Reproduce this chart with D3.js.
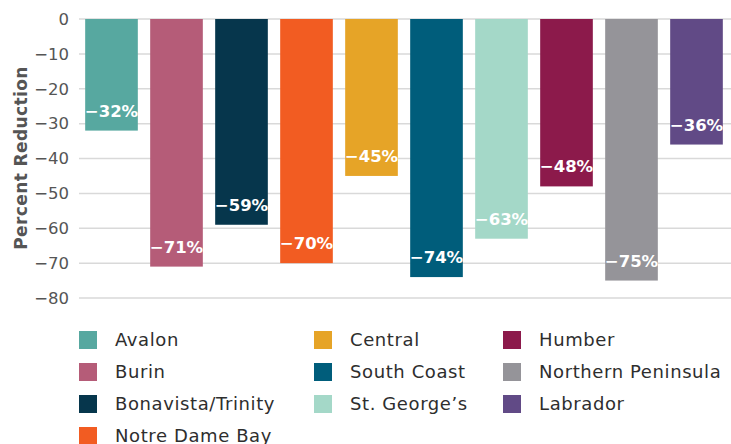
<!DOCTYPE html>
<html>
<head>
<meta charset="utf-8">
<script src="https://cdn.jsdelivr.net/npm/d3@7"></script>
<style>
  body { margin: 0; background: #fff; }
  svg { display: block; font-family: "DejaVu Sans", sans-serif; }
</style>
</head>
<body>
<svg id="chart" width="731" height="444"></svg>
<script>
// regions and their percent reduction
const regions = ["Avalon", "Burin", "Bonavista/Trinity", "Notre Dame Bay", "Central",
  "South Coast", "St. George\u2019s", "Humber", "Northern Peninsula", "Labrador"];
const reduction = [-32, -71, -59, -70, -45, -74, -63, -48, -75, -36];
const colors = ["#57a8a0", "#b55c78", "#06364c", "#f25c22", "#e6a427",
  "#005d7b", "#a4d8c8", "#8c1a4b", "#959499", "#614a86"];
const yTicks = [0, -10, -20, -30, -40, -50, -60, -70, -80];

// legend columns (indices into regions)
const legendCols = [[0, 1, 2, 3], [4, 5, 6], [7, 8, 9]];
const legendX = [79, 314, 503];

let svg = d3.select('#chart');

let x = d3.scaleBand()
    .domain(regions)
    .range([79, 729])
    .paddingInner(0.19)
    .paddingOuter(0.095);

let y = d3.scaleLinear()
    .domain([0, -80])
    .range([19, 298]);

// gridlines
svg.append('g')
    .selectAll('line')
    .data(yTicks)
    .enter()
    .append('line')
    .attr('x1', 79)
    .attr('x2', 731)
    .attr('y1', d => y(d))
    .attr('y2', d => y(d))
    .attr('stroke', '#d9d9d9')
    .attr('stroke-width', 1.5);

// y axis labels
let yAxis = d3.axisLeft(y)
    .tickValues(yTicks)
    .tickSize(0)
    .tickPadding(0)
    .tickFormat(d => d3.format('')(d).replace('-', '\u2212'));

svg.append('g')
    .attr('transform', 'translate(69,0)')
    .call(yAxis)
    .call(g => g.select('.domain').remove())
    .selectAll('text')
    .attr('font-size', 16.5)
    .attr('font-family', '"DejaVu Sans", sans-serif')
    .attr('fill', '#555');

svg.append('text')
    .attr('transform', 'translate(27,158) rotate(-90)')
    .attr('text-anchor', 'middle')
    .attr('font-size', 17)
    .attr('font-weight', 'bold')
    .attr('letter-spacing', 0.4)
    .attr('fill', '#555')
    .text('Percent Reduction');

// bars
let bars = svg.append('g')
    .selectAll('g.bar')
    .data(regions)
    .enter()
    .append('g')
    .attr('class', 'bar');

bars.append('rect')
    .attr('x', d => x(d))
    .attr('width', x.bandwidth())
    .attr('y', y(0))
    .attr('height', (d, i) => y(reduction[i]) - y(0))
    .attr('fill', (d, i) => colors[i]);

bars.append('text')
    .attr('x', d => x(d) + x.bandwidth() / 2)
    .attr('y', (d, i) => y(reduction[i]) - 14)
    .attr('text-anchor', 'middle')
    .attr('font-size', 16.5)
    .attr('font-weight', 'bold')
    .attr('fill', '#fff')
    .text((d, i) => '\u2212' + Math.abs(reduction[i]) + '%');

// legend
legendCols.forEach(function (col, c) {
    let items = svg.append('g')
        .selectAll('g.legend')
        .data(col)
        .enter()
        .append('g')
        .attr('class', 'legend')
        .attr('transform', (d, r) => 'translate(' + legendX[c] + ',' + (331 + r * 32) + ')');
    items.append('rect')
        .attr('width', 18)
        .attr('height', 18)
        .attr('fill', d => colors[d]);
    items.append('text')
        .attr('x', 36)
        .attr('y', 15)
        .attr('font-size', 18)
        .attr('letter-spacing', 0.6)
        .attr('fill', '#2e2e2e')
        .text(d => regions[d]);
});
</script>
</body>
</html>
